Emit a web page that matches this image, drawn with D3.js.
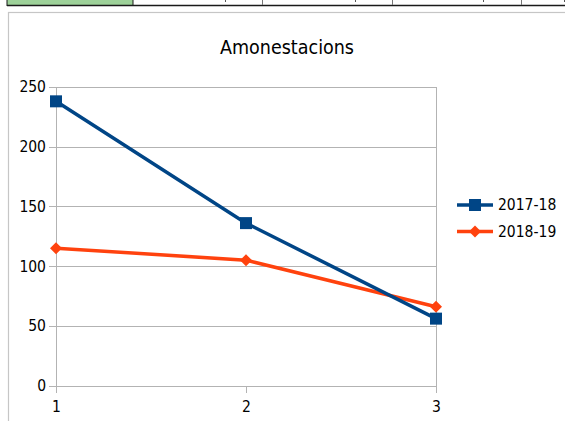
<!DOCTYPE html>
<html><head><meta charset="utf-8">
<script src="https://cdn.jsdelivr.net/npm/d3@7"></script>
<style>
html,body{margin:0;padding:0;background:#fff;}
svg{display:block;font-family:"DejaVu Sans";font-stretch:condensed;}
</style></head>
<body><svg id="c" width="565" height="421"></svg>
<script>
const categories = [1, 2, 3];
const series1Name = "2017-18";
const series1 = [238, 136, 56];
const series2Name = "2018-19";
const series2 = [115, 105, 66];
const yTicks = [0, 50, 100, 150, 200, 250];
const title = "Amonestacions";

const svg = d3.select("#c");
const blue = "#004586", orange = "#ff420e", grid = "#b3b3b3";

// spreadsheet strip at top
svg.append("rect").attr("x",7).attr("y",-2).attr("width",126).attr("height",7.5).attr("fill","#9dd199").attr("stroke","#1a1a1a").attr("stroke-width",1);
svg.append("line").attr("x1",7).attr("x2",565).attr("y1",5.5).attr("y2",5.5).attr("stroke","#1a1a1a").attr("stroke-width",1.5);
[262, 392, 521].forEach(x=>svg.append("line").attr("x1",x+0.5).attr("x2",x+0.5).attr("y1",0).attr("y2",5).attr("stroke","#777"));
[225, 355, 483, 564].forEach(x=>svg.append("rect").attr("x",x).attr("y",0).attr("width",1).attr("height",2).attr("fill","#555"));

// chart frame
svg.append("rect").attr("x",8.5).attr("y",12.5).attr("width",600).attr("height",450).attr("fill","#fff").attr("stroke","#c6c6c6").attr("stroke-width",1.2);

const x = d3.scalePoint().domain(categories).range([56, 436]);
const y = d3.scaleLinear().domain([0, 250]).range([385.5, 87]);

// grid
svg.append("g").selectAll("line").data(yTicks).join("line")
  .attr("x1",49).attr("x2",436).attr("y1",d=>Math.round(y(d))+0.5).attr("y2",d=>Math.round(y(d))+0.5)
  .attr("stroke",grid).attr("stroke-width",1);
// left axis and right border
svg.append("line").attr("x1",56.5).attr("x2",56.5).attr("y1",87).attr("y2",393).attr("stroke",grid);
svg.append("line").attr("x1",436.5).attr("x2",436.5).attr("y1",87).attr("y2",393).attr("stroke",grid);
svg.append("line").attr("x1",246.5).attr("x2",246.5).attr("y1",386).attr("y2",393).attr("stroke",grid);

// y labels
const yAxis = d3.axisLeft(y).tickValues(yTicks).tickSize(0).tickPadding(0);
const ya = svg.append("g").attr("transform","translate(46,0)").call(yAxis);
ya.select(".domain").remove();
ya.selectAll("text").attr("font-size",15.5).attr("fill","#000").attr("font-family","DejaVu Sans").style("font-stretch","condensed");

// x labels
const xAxis = d3.axisBottom(x).tickSize(0).tickPadding(0);
const xa = svg.append("g").attr("transform","translate(0,401)").call(xAxis);
xa.select(".domain").remove();
xa.selectAll("text").attr("font-size",15.5).attr("fill","#000").attr("font-family","DejaVu Sans").style("font-stretch","condensed");

// title
svg.append("text").attr("x",287).attr("y",54).attr("text-anchor","middle").attr("font-size",19.5).text(title);

const line = d3.line().x((d,i)=>x(categories[i])).y(d=>y(d));
svg.append("path").datum(series2).attr("d",line).attr("fill","none").attr("stroke",orange).attr("stroke-width",3.5);
svg.append("path").datum(series1).attr("d",line).attr("fill","none").attr("stroke",blue).attr("stroke-width",3.5);

const diamond = (cx,cy,r)=>`M${cx},${cy-r}L${cx+r},${cy}L${cx},${cy+r}L${cx-r},${cy}Z`;
svg.append("g").selectAll("path").data(series2).join("path")
  .attr("d",(d,i)=>diamond(x(categories[i]),y(d),6)).attr("fill",orange);
svg.append("g").selectAll("rect").data(series1).join("rect")
  .attr("x",(d,i)=>x(categories[i])-6).attr("y",d=>y(d)-6).attr("width",12).attr("height",12).attr("fill",blue);

// legend
const leg = [{n:series1Name,c:blue,m:"s"},{n:series2Name,c:orange,m:"d"}];
leg.forEach((l,i)=>{
  const ly = 205 + i*26.5;
  svg.append("line").attr("x1",457).attr("x2",493).attr("y1",ly).attr("y2",ly).attr("stroke",l.c).attr("stroke-width",3.5);
  if(l.m==="s") svg.append("rect").attr("x",469).attr("y",ly-6).attr("width",12).attr("height",12).attr("fill",l.c);
  else svg.append("path").attr("d",diamond(475,ly,6)).attr("fill",l.c);
  svg.append("text").attr("x",498).attr("y",ly).attr("dy","0.35em").attr("font-size",15.5).text(l.n);
});
</script></body></html>
